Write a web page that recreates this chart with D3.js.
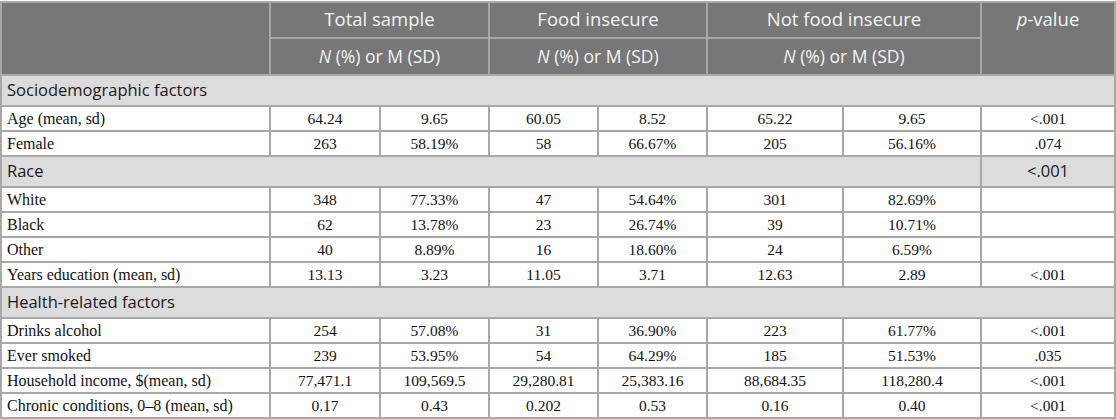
<!DOCTYPE html>
<html>
<head>
<meta charset="utf-8">
<script src="https://cdn.jsdelivr.net/npm/d3@7"></script>
<style>
  body { margin: 0; background: #fff; }
  svg { display: block; }
</style>
</head>
<body>
<div id="chart-area"></div>
<script>
'use strict';

// table content
let groups = ['Total sample', 'Food insecure', 'Not food insecure'];
let sections = ['Sociodemographic factors', 'Race', 'Health-related factors'];
let sectionP = ['', '<.001', ''];
let sectionStart = [0, 2, 6]; // data row index where each section begins

let rowLabels = [
    'Age (mean, sd)', 'Female', 'White', 'Black', 'Other',
    'Years education (mean, sd)', 'Drinks alcohol', 'Ever smoked',
    'Household income, $(mean, sd)', 'Chronic conditions, 0–8 (mean, sd)'
];
let totalN   = ['64.24', '263', '348', '62', '40', '13.13', '254', '239', '77,471.1', '0.17'];
let totalPct = ['9.65', '58.19%', '77.33%', '13.78%', '8.89%', '3.23', '57.08%', '53.95%', '109,569.5', '0.43'];
let foodN    = ['60.05', '58', '47', '23', '16', '11.05', '31', '54', '29,280.81', '0.202'];
let foodPct  = ['8.52', '66.67%', '54.64%', '26.74%', '18.60%', '3.71', '36.90%', '64.29%', '25,383.16', '0.53'];
let notN     = ['65.22', '205', '301', '39', '24', '12.63', '223', '185', '88,684.35', '0.16'];
let notPct   = ['9.65', '56.16%', '82.69%', '10.71%', '6.59%', '2.89', '61.77%', '51.53%', '118,280.4', '0.40'];
let pValues  = ['<.001', '.074', '', '', '', '<.001', '<.001', '.035', '<.001', '<.001'];

let W = 1116, H = 419;
let colWidths = [270, 110, 109, 109, 109, 136, 138, 134];
let headerH = [36, 37];
let sectionH = 31, dataH = 25;
let topY = 2;

let headBg = '#777777', sectBg = '#dcdcdc', line = '#a8a8a8';
let sans = "'Open Sans', 'Noto Sans', sans-serif";
let serif = "'Liberation Serif', 'Times New Roman', serif";

// build row list
let rows = [];
rowLabels.forEach((lab, i) => {
    let s = sectionStart.indexOf(i);
    if (s >= 0) rows.push({type: 'section', label: sections[s], p: sectionP[s], id: 's' + s});
    rows.push({type: 'data', i: i, id: 'd' + i});
});

let heights = rows.map(r => r.type === 'section' ? sectionH : dataH);
let yStart = topY + d3.sum(headerH);
let offsets = [0].concat(Array.from(d3.cumsum(heights))).slice(0, rows.length)
    .map(o => yStart + o);

let y = d3.scaleOrdinal()
    .domain(rows.map(r => r.id))
    .range(offsets);

let colEdges = [0].concat(Array.from(d3.cumsum(colWidths)));
let x = d3.scaleOrdinal()
    .domain(d3.range(colEdges.length))
    .range(colEdges);

let columns = [totalN, totalPct, foodN, foodPct, notN, notPct, pValues];

let svg = d3.select('#chart-area').append('svg')
    .attr('width', W)
    .attr('height', H);

// header background
let headTotal = d3.sum(headerH);
svg.append('rect')
    .attr('x', 0).attr('y', topY)
    .attr('width', W).attr('height', headTotal)
    .attr('fill', headBg);

// header group cells
let hg = svg.append('g').attr('class', 'header');
groups.forEach((g, k) => {
    let x0 = x(1 + 2 * k), x1 = x(3 + 2 * k);
    hg.append('text')
        .attr('x', (x0 + x1) / 2)
        .attr('y', topY + headerH[0] / 2)
        .attr('dy', '0.35em')
        .attr('text-anchor', 'middle')
        .attr('font-family', sans)
        .attr('font-size', '18.5px')
        .attr('fill', '#f4f4f4')
        .text(g);
    let t = hg.append('text')
        .attr('x', (x0 + x1) / 2)
        .attr('y', topY + headerH[0] + headerH[1] / 2)
        .attr('dy', '0.35em')
        .attr('text-anchor', 'middle')
        .attr('font-family', sans)
        .attr('font-size', '17.5px')
        .attr('fill', '#f4f4f4');
    t.append('tspan').attr('font-style', 'italic').text('N');
    t.append('tspan').text(' (%) or M (SD)');
});
let pv = hg.append('text')
    .attr('x', (x(7) + x(8)) / 2)
    .attr('y', topY + headerH[0] / 2)
    .attr('dy', '0.35em')
    .attr('text-anchor', 'middle')
    .attr('font-family', sans)
    .attr('font-size', '18.5px')
    .attr('fill', '#f4f4f4');
pv.append('tspan').attr('font-style', 'italic').text('p');
pv.append('tspan').text('-value');

// header lines
hg.append('line')
    .attr('x1', x(1)).attr('x2', x(7))
    .attr('y1', topY + headerH[0]).attr('y2', topY + headerH[0])
    .attr('stroke', line).attr('stroke-width', 2);
[1, 3, 5, 7].forEach(c => {
    hg.append('line')
        .attr('x1', x(c)).attr('x2', x(c))
        .attr('y1', topY).attr('y2', topY + headTotal)
        .attr('stroke', line).attr('stroke-width', 2);
});

// body rows
let body = svg.append('g').attr('class', 'body');
let rowG = body.selectAll('g.row')
    .data(rows)
    .enter()
    .append('g')
        .attr('class', 'row')
        .attr('transform', r => 'translate(0,' + y(r.id) + ')');

rowG.append('rect')
    .attr('x', 0).attr('y', 0)
    .attr('width', W)
    .attr('height', (r, i) => heights[i])
    .attr('fill', r => r.type === 'section' ? sectBg : '#ffffff');

// section labels
let secG = rowG.filter(r => r.type === 'section');
secG.append('text')
    .attr('x', 7)
    .attr('y', sectionH / 2)
    .attr('dy', '0.35em')
    .attr('font-family', sans)
    .attr('font-size', '16.5px')
    .attr('fill', '#1a1a1a')
    .text(r => r.label);
secG.filter(r => r.p !== '')
    .append('text')
        .attr('x', (x(7) + x(8)) / 2)
        .attr('y', sectionH / 2)
        .attr('dy', '0.35em')
        .attr('text-anchor', 'middle')
        .attr('font-family', sans)
        .attr('font-size', '16.5px')
        .attr('fill', '#1a1a1a')
        .text(r => r.p);
secG.filter(r => r.p !== '')
    .append('line')
        .attr('x1', x(7)).attr('x2', x(7))
        .attr('y1', 0).attr('y2', sectionH)
        .attr('stroke', line).attr('stroke-width', 2);

// data cells
let datG = rowG.filter(r => r.type === 'data');
datG.append('text')
    .attr('x', 7)
    .attr('y', dataH / 2)
    .attr('dy', '0.35em')
    .attr('font-family', serif)
    .attr('font-size', '16px')
    .attr('fill', '#111')
    .text(r => rowLabels[r.i]);

columns.forEach((col, c) => {
    datG.append('text')
        .attr('x', (x(c + 1) + x(c + 2)) / 2)
        .attr('y', dataH / 2)
        .attr('dy', '0.35em')
        .attr('text-anchor', 'middle')
        .attr('font-family', serif)
        .attr('font-size', '15.5px')
        .attr('fill', '#111')
        .text(r => col[r.i]);
});

d3.range(1, 8).forEach(c => {
    datG.append('line')
        .attr('x1', x(c)).attr('x2', x(c))
        .attr('y1', 0).attr('y2', dataH)
        .attr('stroke', line).attr('stroke-width', 2);
});

// horizontal row lines
rowG.append('line')
    .attr('x1', 0).attr('x2', W)
    .attr('y1', 0).attr('y2', 0)
    .attr('stroke', line).attr('stroke-width', 2);

// outer border
let yEnd = offsets[offsets.length - 1] + heights[heights.length - 1];
svg.append('rect')
    .attr('x', 1).attr('y', topY)
    .attr('width', W - 2).attr('height', yEnd - topY)
    .attr('fill', 'none')
    .attr('stroke', line).attr('stroke-width', 2);
</script>
</body>
</html>
